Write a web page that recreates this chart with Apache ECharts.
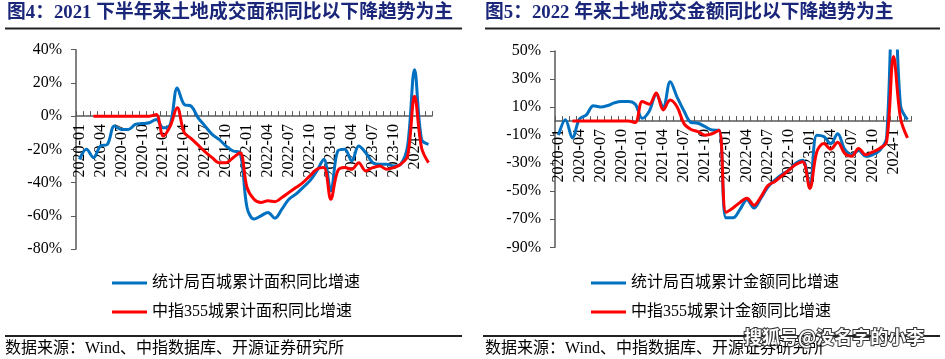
<!DOCTYPE html>
<html><head><meta charset="utf-8">
<script src="https://cdn.jsdelivr.net/npm/echarts@6/dist/echarts.min.js"></script>
<style>html,body{margin:0;padding:0;background:#fff}#c{width:945px;height:359px}</style>
</head><body><div id="c"></div>
<script>
const months = ["2020-01","2020-02","2020-03","2020-04","2020-05","2020-06","2020-07","2020-08","2020-09","2020-10","2020-11","2020-12",
"2021-01","2021-02","2021-03","2021-04","2021-05","2021-06","2021-07","2021-08","2021-09","2021-10","2021-11","2021-12",
"2022-01","2022-02","2022-03","2022-04","2022-05","2022-06","2022-07","2022-08","2022-09","2022-10","2022-11","2022-12",
"2023-01","2023-02","2023-03","2023-04","2023-05","2023-06","2023-07","2023-08","2023-09","2023-10","2023-11","2023-12",
"2024-1","2024-2","2024-3"];

const areaNBS = [-26,-20,-25,-18,-17,-6,-8,-8,-5,-4.5,-4,-2,-7,-5,17,7,6,-1,-6,-11,-14,-18,-21,-22,
-55,-62,-60,-58,-61.5,-56,-50,-47,-43,-39,-33,-26,-45,-21,-20,-27,-18,-22,-28,-29,-29,-30,-29,-18,28,-14,-17];
const areaCIA = [null,null,0,0,0,0,0,0,0,0,0,1,-12,-6,5,-10,-13.5,-17.5,-21.5,-25,-28,-28,-25,-22,
-43,-50,-52,-51,-51.5,-49,-46,-43,-40,-36,-32,-31,-50,-33,-31,-32,-28,-33,-31,-30,-32,-31,-29,-24,12,-19,-28];

const amtNBS = [-10,1,-12,1.5,4.5,11,10,11,13,14,14,12,2,7,19,10,28,17,7,-1,-1.5,-4,-6.4,-6.5,
-69,-69,-63,-56,-62,-55,-47,-42,-38,-35,-30,-28,-47,-10,-11,-16,-9,-20,-24,-21,-25,-24,-21,-12,110,11,1];
const amtCIA = [null,null,0,0,0,0,0,0,0,0,0,-1,14,12,20,8,15,10,-2,-6,-7.5,-10,-9,-6.5,
-65,-62,-58,-55,-60,-54,-46,-43,-39,-35,-31,-29,-48,-22,-16,-20,-15,-23,-25,-19.5,-24,-22,-19.5,-15,46,2,-12];

const leftNames = ["统计局百城累计面积同比增速","中指355城累计面积同比增速"];
const rightNames = ["统计局百城累计金额同比增速","中指355城累计金额同比增速"];
const titles = ["图4：2021 下半年来土地成交面积同比以下降趋势为主","图5：2022 年来土地成交金额同比以下降趋势为主"];
const sourceText = "数据来源：Wind、中指数据库、开源证券研究所";
const watermark = "搜狐号@没名字的小李";

const BLUE = "#0070C0", RED = "#FF0000";
const FONT = "'Liberation Serif','Noto Sans CJK SC',serif";
const AX = "#595959";

function xAxis(gi, off){
  return {type:'category', gridIndex:gi, data:months, boundaryGap:true, offset:off,
    axisLine:{onZero:false, lineStyle:{color:AX, width:1.5}},
    axisTick:{show:true, inside:true, length:5, interval:0, lineStyle:{color:AX}},
    axisLabel:{interval:2, rotate:90, margin:8, fontSize:16, fontFamily:FONT, color:'#000'},
    splitLine:{show:false}};
}
function yAxis(gi,min,max){
  return {type:'value', gridIndex:gi, min:min, max:max, interval:20,
    axisLine:{show:true, lineStyle:{color:AX, width:1.5}},
    axisTick:{show:true, length:5, lineStyle:{color:AX}},
    axisLabel:{margin:14, fontSize:16, fontFamily:FONT, color:'#000', formatter:'{value}%'},
    splitLine:{show:false}};
}
function line(name, data, color, gi){
  return {type:'line', name:name, data:data, xAxisIndex:gi, yAxisIndex:gi, smooth:0.35, z:5,
    showSymbol:false, symbol:'none', lineStyle:{color:color, width:3}, itemStyle:{color:color}, clip:true, connectNulls:false};
}
function legend(names, left){
  return {orient:'vertical', left:left, top:275, padding:0, itemGap:13, itemWidth:35, itemHeight:3, icon:'rect',
    data:names, textStyle:{fontSize:16, fontFamily:FONT, color:'#000'}};
}
const chart = echarts.init(document.getElementById('c'), null, {renderer:'canvas'});
chart.setOption({
  backgroundColor:'#fff', animation:false,
  grid:[{left:76, top:49.7, width:356, height:199.3},{left:555, top:51, width:356, height:196.3}],
  xAxis:[xAxis(0, -132.9), xAxis(1, -126.2)],
  yAxis:[yAxis(0,-80,40), yAxis(1,-90,50)],
  legend:[legend(leftNames,112), legend(rightNames,591)],
  series:[line(leftNames[0],areaNBS,BLUE,0), line(leftNames[1],areaCIA,RED,0),
          line(rightNames[0],amtNBS,BLUE,1), line(rightNames[1],amtCIA,RED,1)],
  graphic:[
    {type:'text', left:7, top:4, style:{text:titles[0], font:"bold 18.8px "+FONT, fill:'#1a2679'}},
    {type:'text', left:485, top:4, style:{text:titles[1], font:"bold 18.8px "+FONT, fill:'#1a2679'}},
    {type:'line', shape:{x1:5,y1:28.5,x2:462,y2:28.5}, style:{stroke:'#222', lineWidth:2}},
    {type:'line', shape:{x1:485,y1:28.5,x2:940,y2:28.5}, style:{stroke:'#222', lineWidth:2}},
    {type:'line', shape:{x1:5,y1:336,x2:462,y2:336}, style:{stroke:'#222', lineWidth:2}},
    {type:'line', shape:{x1:483,y1:336,x2:940,y2:336}, style:{stroke:'#222', lineWidth:2}},
    {type:'text', left:5, top:341, style:{text:sourceText, font:"16px "+FONT, fill:'#000'}},
    {type:'text', left:485, top:341, style:{text:sourceText, font:"16px "+FONT, fill:'#000'}},
    {type:'text', left:743, top:327, z:100, style:{text:watermark, font:"bold 18px 'Noto Sans CJK SC',sans-serif", fill:'#fff', stroke:'#333', lineWidth:2}}
  ]
});
</script></body></html>
